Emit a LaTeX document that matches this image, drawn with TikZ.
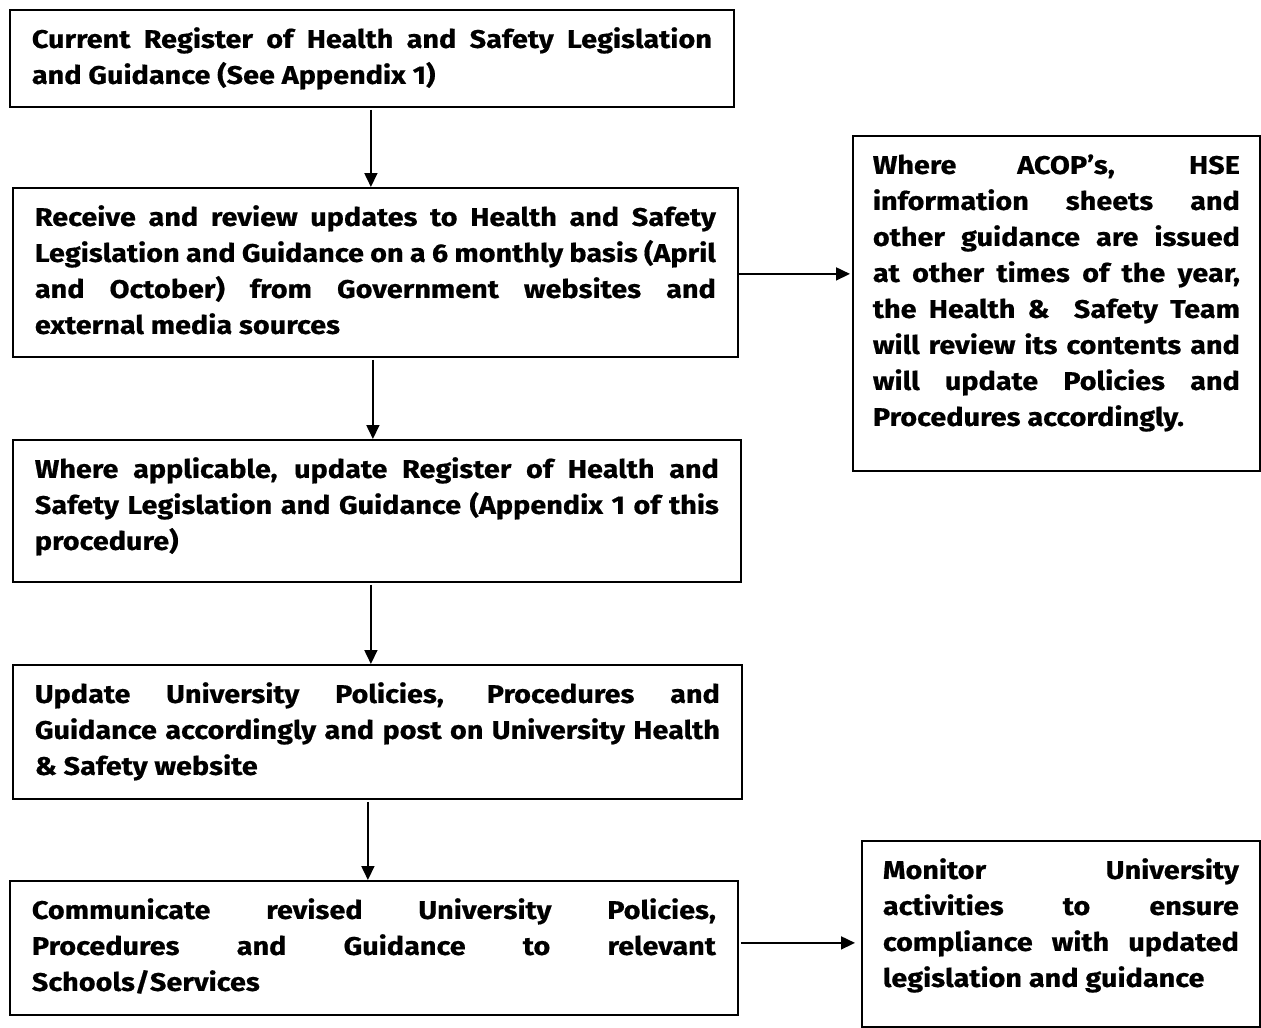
\documentclass[tikz,border=0pt]{standalone}
\usepackage{fontspec}
\setmainfont{Fira Sans}[FakeStretch=1.13,BoldFeatures={FakeBold=0.6}]
\usetikzlibrary{arrows.meta}
\newcommand\jl[1]{\hbox to \hsize{#1}}
\newcommand\lastline[1]{\hbox{#1}}
\newcommand\boxtext[3]{\vbox to #2{\hsize=#1\relax\baselineskip=36pt\lineskiplimit=-100pt\vskip 2pt\hbox{}#3\vfill}}
\begin{document}
\begin{tikzpicture}[x=1pt,y=-1pt,
  fbox/.style={draw=black,line width=1.8pt,inner xsep=22pt,inner ysep=0pt,anchor=north west,
    font=\fontsize{25.5}{36}\selectfont\bfseries},
  rbox/.style={fbox,inner xsep=20pt},
  arr/.style={line width=1.7pt,-{Triangle[length=14pt,width=13pt]}}]
\useasboundingbox (0,0) rectangle (1261,1028);
\node[fbox] (b1) at (9,9) {\boxtext{680pt}{97pt}{%
  \jl{Current Register of Health and Safety Legislation}
  \lastline{and Guidance (See Appendix 1)}}};
\node[fbox] (b2) at (12,187) {\boxtext{681pt}{169pt}{%
  \jl{Receive and review updates to Health and Safety}
  \jl{Legislation and Guidance on a 6 monthly basis (April}
  \jl{and October) from Government websites and}
  \lastline{external media sources}}};
\node[fbox] (b3) at (12,439) {\boxtext{684pt}{142pt}{%
  \jl{Where applicable, update Register of Health and}
  \jl{Safety Legislation and Guidance (Appendix 1 of this}
  \lastline{procedure)}}};
\node[fbox] (b4) at (12,664) {\boxtext{685pt}{134pt}{%
  \jl{Update University Policies, Procedures and}
  \jl{Guidance accordingly and post on University Health}
  \lastline{\& Safety website}}};
\node[fbox] (b5) at (9,880) {\boxtext{684pt}{134pt}{%
  \jl{Communicate revised University Policies,}
  \jl{Procedures and Guidance to relevant}
  \lastline{Schools/Services}}};
\node[rbox] (r1) at (852,135) {\boxtext{367pt}{335pt}{%
  \jl{Where ACOP’s, HSE}
  \jl{information sheets and}
  \jl{other guidance are issued}
  \jl{at other times of the year,}
  \jl{the Health \&\ \ Safety Team}
  \jl{will review its contents and}
  \jl{will update Policies and}
  \lastline{Procedures accordingly.}}};
\node[rbox,inner xsep=21pt] (r2) at (861,840) {\boxtext{356pt}{186pt}{%
  \jl{Monitor University}
  \jl{activities to ensure}
  \jl{compliance with updated}
  \lastline{legislation and guidance}}};
\draw[arr] ([xshift=-1pt,yshift=-2pt]b1.south) -- ([xshift=-1pt]b1.south |- b2.north);
\draw[arr] ([xshift=-2.5pt,yshift=-2pt]b2.south) -- ([xshift=-2.5pt]b2.south |- b3.north);
\draw[arr] ([xshift=-6pt,yshift=-2pt]b3.south) -- ([xshift=-6pt]b3.south |- b4.north);
\draw[arr] ([xshift=-9.5pt,yshift=-2pt]b4.south) -- ([xshift=-9.5pt]b4.south |- b5.north);
\draw[arr,shorten >=2pt] ([yshift=-1.5pt]b2.east) -- ([yshift=-1.5pt]b2.east -| r1.west);
\draw[arr,shorten <=2pt,shorten >=6pt] ([yshift=5pt]b5.east) -- ([yshift=5pt]b5.east -| r2.west);
\end{tikzpicture}
\end{document}
